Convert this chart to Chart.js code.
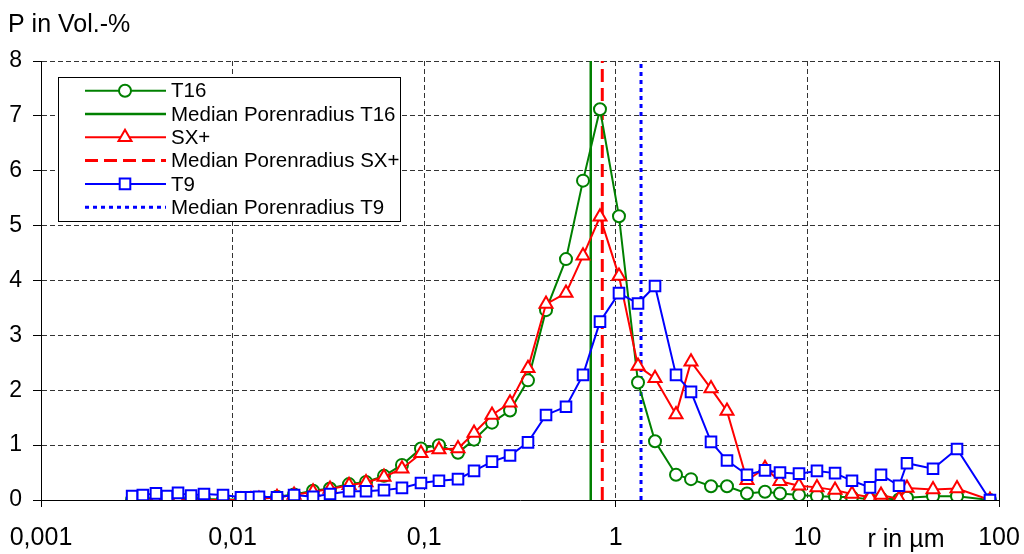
<!DOCTYPE html>
<html>
<head>
<meta charset="utf-8">
<script src="https://cdn.jsdelivr.net/npm/chart.js@4.4.1/dist/chart.umd.min.js"></script>
<style>
  body { margin: 0; background: #fff; }
  canvas { display: block; }
</style>
</head>
<body>
<canvas id="grafico" width="1024" height="554"></canvas>
<script>
// Porenradius in µm (gemeinsame Messpunkte aller Proben)
const radius = [0.00299, 0.0034, 0.00398, 0.00455, 0.00519, 0.00607, 0.00709, 0.00891,
  0.01106, 0.01247, 0.01373, 0.01705, 0.02093, 0.02629, 0.03225, 0.04052, 0.0497, 0.06168,
  0.07655, 0.0962, 0.1194, 0.1501, 0.182, 0.2259, 0.2805, 0.3481, 0.4323, 0.5496, 0.6743,
  0.827, 1.039, 1.306, 1.602, 2.062, 2.469, 3.14, 3.805, 4.839, 6.007, 7.194, 9.04, 11.22,
  13.94, 17.09, 21.22, 24.22, 30.07, 33.09, 45.25, 60.38, 89.7]

// Anteil in Vol.-%
const data_t16 = [0.01, 0.01, 0.0, 0.01, 0.0, 0.01, 0.02, 0.01,
  0.01, 0.02, 0.03, 0.06, 0.10, 0.17, 0.21, 0.29, 0.33, 0.44,
  0.64, 0.94, 1.00, 0.86, 1.10, 1.41, 1.63, 2.18, 3.46, 4.39, 5.82,
  7.12, 5.17, 2.14, 1.07, 0.46, 0.38, 0.25, 0.25, 0.12, 0.15, 0.12, 0.09, 0.07,
  0.06, 0.05, 0.01, 0.03, 0.01, 0.04, 0.07, 0.07, 0.0]

const data_sx = [0.0, 0.0, 0.0, 0.0, 0.01, 0.0, 0.0, 0.0,
  0.0, 0.01, 0.02, 0.05, 0.09, 0.15, 0.20, 0.27, 0.32, 0.42,
  0.57, 0.85, 0.92, 0.94, 1.22, 1.55, 1.77, 2.40, 3.57, 3.77, 4.45,
  5.16, 4.08, 2.44, 2.22, 1.56, 2.52, 2.03, 1.62, 0.36, 0.58, 0.34, 0.26, 0.23,
  0.18, 0.11, 0.05, 0.09, 0.02, 0.22, 0.19, 0.21, 0.0]

const data_t9 = [0.07, 0.09, 0.12, 0.07, 0.13, 0.08, 0.11, 0.09,
  0.05, 0.05, 0.06, 0.05, 0.09, 0.06, 0.11, 0.16, 0.16, 0.18,
  0.22, 0.31, 0.35, 0.38, 0.53, 0.70, 0.81, 1.05, 1.55, 1.70, 2.28,
  3.25, 3.77, 3.58, 3.90, 2.28, 1.97, 1.06, 0.72, 0.46, 0.54, 0.50, 0.48, 0.53,
  0.49, 0.35, 0.23, 0.46, 0.26, 0.67, 0.57, 0.93, 0.0]

// Median Porenradius in µm
const median_t16 = 0.74
const median_sx = 0.85
const median_t9 = 1.354

const ticks_x = [0.001, 0.01, 0.1, 1, 10, 100]
const labels_x = ['0,001', '0,01', '0,1', '1', '10', '100']
const ticks_y = [0, 1, 2, 3, 4, 5, 6, 7, 8]

const fonte = "'Liberation Sans', Arial, sans-serif"
const verde = '#008000'
const vermelho = '#ff0000'
const azul = '#0000ff'

function pontos(valores) {
    return radius.map((r, i) => ({ x: r, y: valores[i] }))
}

function linhaMediana(r) {
    return [{ x: r, y: 0 }, { x: r, y: 8 }]
}

function serie(label, valores, cor, estilo, raio, ordem) {
    return {
        label: label,
        data: pontos(valores),
        borderColor: cor,
        backgroundColor: '#fff',
        borderWidth: 2,
        pointStyle: estilo,
        pointRadius: raio,
        pointBorderWidth: 2,
        pointBackgroundColor: '#fff',
        pointBorderColor: cor,
        tension: 0,
        order: ordem,
    }
}

function mediana(label, r, cor, tracejado, largura, ordem) {
    return {
        label: label,
        data: linhaMediana(r),
        borderColor: cor,
        borderWidth: largura,
        borderDash: tracejado,
        pointRadius: 0,
        order: ordem,
    }
}

const datasets = [
    serie('T16', data_t16, verde, 'circle', 6, 3),
    mediana('Median Porenradius T16', median_t16, verde, [], 2.5, 6),
    serie('SX+', data_sx, vermelho, 'triangle', 7.5, 2),
    mediana('Median Porenradius SX+', median_sx, vermelho, [13, 6], 3, 5),
    serie('T9', data_t9, azul, 'rect', 7.5, 1),
    mediana('Median Porenradius T9', median_t9, azul, [4, 4], 3, 4),
]

function desenharMarcador(ctx, estilo, x, y, r) {
    ctx.beginPath()
    if (estilo === 'circle') {
        ctx.arc(x, y, r, 0, Math.PI * 2)
    } else if (estilo === 'triangle') {
        for (let k = 0; k < 3; k++) {
            const a = k * 2 * Math.PI / 3
            const px = x + Math.sin(a) * r
            const py = y - Math.cos(a) * r
            if (k === 0) ctx.moveTo(px, py); else ctx.lineTo(px, py)
        }
        ctx.closePath()
    } else if (estilo === 'rect') {
        const s = r * Math.SQRT1_2
        ctx.rect(x - s, y - s, 2 * s, 2 * s)
    }
    ctx.fill()
    ctx.stroke()
}

// moldura direita, títulos dos eixos e legenda dentro do gráfico
const extras = {
    id: 'extras',
    afterDraw(chart) {
        const ctx = chart.ctx
        const area = chart.chartArea
        ctx.save()

        ctx.strokeStyle = '#000'
        ctx.lineWidth = 1
        ctx.setLineDash([])
        ctx.beginPath()
        ctx.moveTo(Math.round(area.right) + 0.5, area.top)
        ctx.lineTo(Math.round(area.right) + 0.5, area.bottom)
        ctx.stroke()

        ctx.fillStyle = '#000'
        ctx.font = '25px ' + fonte
        ctx.textAlign = 'left'
        ctx.textBaseline = 'alphabetic'
        ctx.fillText('P in Vol.-%', 8, 32)

        ctx.textAlign = 'center'
        ctx.textBaseline = 'middle'
        ctx.fillText('r in µm', 906, 540)

        // legenda
        const lx = 58.5, ly = 77.5, lw = 342, lh = 144
        ctx.fillStyle = '#fff'
        ctx.fillRect(lx, ly, lw, lh)
        ctx.strokeRect(lx, ly, lw, lh)

        ctx.font = '20.5px ' + fonte
        ctx.textAlign = 'left'
        chart.data.datasets.forEach((ds, i) => {
            const y = 90.7 + i * 23.3
            ctx.strokeStyle = ds.borderColor
            ctx.lineWidth = ds.borderWidth
            ctx.setLineDash(ds.borderDash || [])
            ctx.beginPath()
            ctx.moveTo(85, y)
            ctx.lineTo(166, y)
            ctx.stroke()
            ctx.setLineDash([])
            if (ds.pointRadius > 0) {
                ctx.fillStyle = '#fff'
                ctx.lineWidth = 2
                desenharMarcador(ctx, ds.pointStyle, 125, y, ds.pointRadius)
            }
            ctx.fillStyle = '#000'
            ctx.fillText(ds.label, 171, y + 1)
        })
        ctx.restore()
    }
}

const config = {
    type: 'line',
    data: { datasets: datasets },
    options: {
        responsive: false,
        animation: false,
        layout: { padding: { top: 61, right: 25, bottom: 0, left: 0 } },
        plugins: { legend: { display: false }, tooltip: { enabled: false } },
        scales: {
            x: {
                type: 'logarithmic',
                min: 0.001,
                max: 100,
                afterBuildTicks: s => { s.ticks = ticks_x.map(v => ({ value: v })) },
                afterFit: s => {
                    s.height = 54
                    s.paddingLeft = 0
                    s.paddingRight = 0
                },
                ticks: {
                    autoSkip: false,
                    maxRotation: 0,
                    color: '#000',
                    font: { family: fonte, size: 25 },
                    padding: 16,
                    callback: (v, i) => labels_x[i],
                },
                grid: { color: '#333', lineWidth: 1, tickColor: '#000', tickLength: 7, tickBorderDash: [] },
                border: { display: true, color: '#000', width: 1, dash: [5, 3] },
            },
            y: {
                min: 0,
                max: 8,
                afterBuildTicks: s => { s.ticks = ticks_y.map(v => ({ value: v })) },
                afterFit: s => { s.width = 41 },
                ticks: {
                    color: '#000',
                    font: { family: fonte, size: 23 },
                    padding: 11,
                },
                grid: { color: '#333', lineWidth: 1, tickColor: '#000', tickLength: 8, tickBorderDash: [] },
                border: { display: true, color: '#000', width: 1, dash: [5, 3] },
            },
        },
    },
    plugins: [extras],
}

const grafico = new Chart(document.getElementById('grafico'), config)
</script>
</body>
</html>
